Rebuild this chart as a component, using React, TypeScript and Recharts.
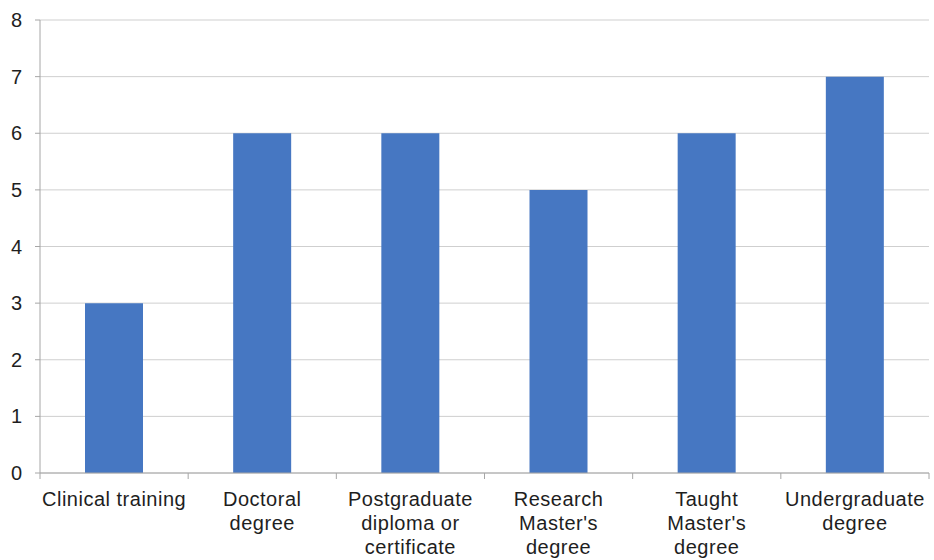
import { useEffect } from "react";
import { BarChart, Bar, XAxis, YAxis, CartesianGrid } from "recharts";

// qualification types and counts
const categories = [
  "Clinical training",
  "Doctoral degree",
  "Postgraduate diploma or certificate",
  "Research Master's degree",
  "Taught Master's degree",
  "Undergraduate degree",
];
const counts = [3, 6, 6, 5, 6, 7];
// how each category label wraps under the axis
const tickLines = [
  ["Clinical training"],
  ["Doctoral", "degree"],
  ["Postgraduate", "diploma or", "certificate"],
  ["Research", "Master's", "degree"],
  ["Taught", "Master's", "degree"],
  ["Undergraduate", "degree"],
];
const yTicks = [0, 1, 2, 3, 4, 5, 6, 7, 8];

const data = categories.map((name, i) => ({ name, count: counts[i], lines: tickLines[i] }));

const FONT = "'Liberation Sans', Arial, sans-serif";
const AXIS = "#a6a6a6";
const TEXT = "#1e1e1e";

function CategoryTick(props: any) {
  const { x, y, payload, index } = props;
  const half = payload.offset ?? 0;
  const lines = tickLines[index] ?? [String(payload.value)];
  return (
    <g>
      <line x1={x - half} y1={y} x2={x - half} y2={y + 6} stroke={AXIS} />
      {index === categories.length - 1 && (
        <line x1={x + half} y1={y} x2={x + half} y2={y + 6} stroke={AXIS} />
      )}
      <text
        x={x}
        y={y + 33}
        textAnchor="middle"
        fill={TEXT}
        fontSize={20}
        letterSpacing={0.5}
        fontFamily={FONT}
      >
        {lines.map((l, i) => (
          <tspan key={i} x={x} dy={i === 0 ? 0 : 24}>
            {l}
          </tspan>
        ))}
      </text>
    </g>
  );
}

export default function App() {
  useEffect(() => {
    document.body.style.margin = "0";
  }, []);
  return (
    <div style={{ width: 934, height: 560, background: "#fff" }}>
      <BarChart width={934} height={560} data={data} margin={{ top: 20, right: 5, bottom: 57, left: 0 }}>
        <CartesianGrid vertical={false} stroke="#cfcfcf" />
        <XAxis
          dataKey="name"
          height={30}
          interval={0}
          tickLine={false}
          tickSize={0}
          tickMargin={0}
          stroke={AXIS}
          tick={<CategoryTick />}
        />
        <YAxis
          width={40}
          domain={[0, 8]}
          ticks={yTicks}
          interval={0}
          tickSize={5}
          tickMargin={13}
          stroke={AXIS}
          tick={{ fill: TEXT, fontSize: 20, fontFamily: FONT }}
        />
        <Bar dataKey="count" fill="#4677c2" barSize={58} isAnimationActive={false} />
      </BarChart>
    </div>
  );
}
